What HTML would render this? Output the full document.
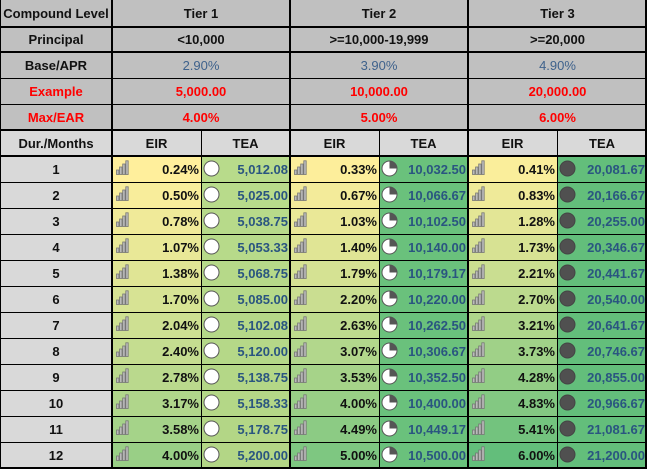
<!DOCTYPE html>
<html><head><meta charset="utf-8"><style>
body{margin:0;width:647px;height:469px;overflow:hidden;background:#fff;font-family:"Liberation Sans",Arial,sans-serif;}
#c{position:relative;width:647px;height:469px;}
.cell{position:absolute;box-sizing:border-box;font-weight:bold;font-size:12.5px;display:flex;align-items:center;}
.ln{position:absolute;background:#000;}
</style></head><body><div id="c"></div>
<script>
var c=document.getElementById('c');
var X=[0,112,201,290,379,468,557,647];
var Y=[0,27,52,78,104,130,156];for(var i=1;i<=12;i++)Y.push(156+26*i);
Y[18]=469;
function cell(x0,x1,y0,y1,bg,html,st){var d=document.createElement('div');d.className='cell';d.style.cssText='left:'+x0+'px;top:'+y0+'px;width:'+(x1-x0)+'px;height:'+(y1-y0)+'px;background:'+bg+';'+(st||'');d.innerHTML=html;c.appendChild(d);return d;}
var G='#c0c0c0',C='justify-content:center;';
var hdr=[['Compound Level','Tier 1','Tier 2','Tier 3','#111'],['Principal','<10,000','>=10,000-19,999','>=20,000','#111'],['Base/APR','2.90%','3.90%','4.90%','#3f628c'],['Example','5,000.00','10,000.00','20,000.00','#f00'],['Max/EAR','4.00%','5.00%','6.00%','#f00']];
for(var r=0;r<5;r++){var h=hdr[r];var lc=(r>=3)?'#f00':'#111';
cell(0,112,Y[r],Y[r+1],G,h[0].replace('<','&lt;'),C+'color:'+lc+';font-size:13px;');
for(var t=0;t<3;t++)cell(X[1+2*t],X[3+2*t],Y[r],Y[r+1],G,h[t+1].replace('<','&lt;'),C+'color:'+h[4]+';font-size:13px;'+(r==2?'font-weight:normal;':''));}
cell(0,112,130,156,'#d9d9d9','Dur./Months',C+'font-size:13px;color:#111');
for(var k=1;k<7;k++)cell(X[k],X[k+1],130,156,'#d9d9d9',k%2?'EIR':'TEA',C+'font-size:13px;color:#111');
var eirs=[[0.24,0.50,0.78,1.07,1.38,1.70,2.04,2.40,2.78,3.17,3.58,4.00],[0.33,0.67,1.03,1.40,1.79,2.20,2.63,3.07,3.53,4.00,4.49,5.00],[0.41,0.83,1.28,1.73,2.21,2.70,3.21,3.73,4.28,4.83,5.41,6.00]];
var teas=[[5012.08,5025.00,5038.75,5053.33,5068.75,5085.00,5102.08,5120.00,5138.75,5158.33,5178.75,5200.00],
[10032.50,10066.67,10102.50,10140.00,10179.17,10220.00,10262.50,10306.67,10352.50,10400.00,10449.17,10500.00],
[20081.67,20166.67,20255.00,20346.67,20441.67,20540.00,20641.67,20746.67,20855.00,20966.67,21081.67,21200.00]];
function lerp(a,b,f){return 'rgb('+a.map(function(v,i){return Math.round(v+(b[i]-v)*f)}).join(',')+')';}
var Y0=[255,239,156],G1=[99,190,123];
var bar='<svg width="13" height="15" style="position:absolute;left:4px;top:4px"><g fill="#bbb" stroke="#777" stroke-width="0.8"><rect x="0.5" y="10" width="2.4" height="4.5"/><rect x="3.6" y="7" width="2.4" height="7.5"/><rect x="6.7" y="4" width="2.4" height="10.5"/><rect x="9.8" y="0.8" width="2.4" height="13.7"/></g></svg>';
var circ=['<svg width="17" height="17" style="position:absolute;left:2px;top:4px"><circle cx="8.5" cy="8.5" r="7.5" fill="#fff" stroke="#555"/></svg>',
'<svg width="17" height="17" style="position:absolute;left:2px;top:4px"><circle cx="8.5" cy="8.5" r="7.5" fill="#fff" stroke="#555"/><path d="M8.5 8.5 V1 A7.5 7.5 0 0 1 16 8.5 Z" fill="#555"/></svg>',
'<svg width="17" height="17" style="position:absolute;left:2px;top:4px"><circle cx="8.5" cy="8.5" r="7.5" fill="#505050" stroke="#444"/></svg>'];
var teaC=[[184,219,139],[106,193,124],[99,190,123]];
function fmt(v){var s=v.toFixed(2).split('.');return s[0].replace(/\B(?=(\d{3})+(?!\d))/g,',')+'.'+s[1];}
for(var m=0;m<12;m++){var y0=Y[6+m],y1=Y[7+m];
cell(0,112,y0,y1,'#d9d9d9',String(m+1),C+'color:#111;font-size:13px;');
for(var t=0;t<3;t++){var e=eirs[t][m];var f=(e-0.24)/(6-0.24);
cell(X[1+2*t],X[2+2*t],y0,y1,lerp(Y0,G1,f),bar+'<span>'+e.toFixed(2)+'%</span>','justify-content:flex-end;padding-right:2px;color:#111;font-size:13px;');
var tc=teaC[t].map(function(v,i){return v-(t==0?m*0.5:0)});
cell(X[2+2*t],X[3+2*t],y0,y1,'rgb('+tc.map(Math.round).join(',')+')',circ[t]+'<span>'+fmt(teas[t][m])+'</span>','justify-content:flex-end;padding-right:2px;color:#2a5580;font-size:13px;');}}
function ln(x,y,w,h){var d=document.createElement('div');d.className='ln';d.style.cssText='left:'+x+'px;top:'+y+'px;width:'+w+'px;height:'+h+'px';c.appendChild(d);}
for(var i=1;i<Y.length-1;i++){var th=(i==1||i==2||i==5||i==6);ln(0,Y[i]-(th?1:0),647,th?2:1);}
ln(0,467,647,2);
[112,290,468].forEach(function(x){ln(x-1,0,2,469);});
[201,379,557].forEach(function(x){ln(x,130,1,339);});
ln(0,0,1,469);ln(645,0,2,469);
</script></body></html>
